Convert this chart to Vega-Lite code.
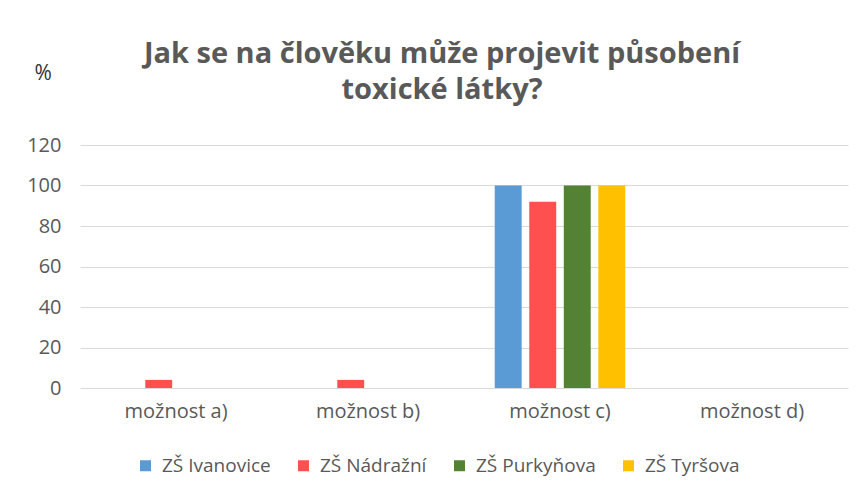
{
  "$schema": "https://vega.github.io/schema/vega-lite/v6.json",
  "width": 768,
  "height": 243,
  "autosize": {"type": "none"},
  "padding": {"left": 80, "top": 145, "right": 14, "bottom": 109},
  "background": "white",
  "title": {
    "text": ["Jak se na člověku může projevit působení", "toxické látky?"],
    "font": "Open Sans",
    "fontSize": 29,
    "fontWeight": "bold",
    "color": "#595959",
    "anchor": "middle",
    "frame": "group",
    "dx": -22,
    "offset": -43,
    "lineHeight": 36
  },
  "data": {
    "values": [
      {"moznost": "možnost a)", "skola": "ZŠ Ivanovice", "pct": 0},
      {"moznost": "možnost a)", "skola": "ZŠ Nádražní", "pct": 4},
      {"moznost": "možnost a)", "skola": "ZŠ Purkyňova", "pct": 0},
      {"moznost": "možnost a)", "skola": "ZŠ Tyršova", "pct": 0},
      {"moznost": "možnost b)", "skola": "ZŠ Ivanovice", "pct": 0},
      {"moznost": "možnost b)", "skola": "ZŠ Nádražní", "pct": 4},
      {"moznost": "možnost b)", "skola": "ZŠ Purkyňova", "pct": 0},
      {"moznost": "možnost b)", "skola": "ZŠ Tyršova", "pct": 0},
      {"moznost": "možnost c)", "skola": "ZŠ Ivanovice", "pct": 100},
      {"moznost": "možnost c)", "skola": "ZŠ Nádražní", "pct": 92},
      {"moznost": "možnost c)", "skola": "ZŠ Purkyňova", "pct": 100},
      {"moznost": "možnost c)", "skola": "ZŠ Tyršova", "pct": 100},
      {"moznost": "možnost d)", "skola": "ZŠ Ivanovice", "pct": 0},
      {"moznost": "možnost d)", "skola": "ZŠ Nádražní", "pct": 0},
      {"moznost": "možnost d)", "skola": "ZŠ Purkyňova", "pct": 0},
      {"moznost": "možnost d)", "skola": "ZŠ Tyršova", "pct": 0}
    ]
  },
  "mark": {"type": "bar"},
  "encoding": {
    "x": {
      "field": "moznost",
      "type": "nominal",
      "sort": null,
      "scale": {"paddingInner": 0, "paddingOuter": 0},
      "axis": {
        "title": null,
        "labelAngle": 0,
        "labelFont": "Open Sans",
        "labelFontSize": 20,
        "labelColor": "#595959",
        "labelPadding": 13,
        "domain": false,
        "ticks": false,
        "grid": false
      }
    },
    "xOffset": {
      "field": "skola",
      "type": "nominal",
      "sort": null,
      "scale": {"paddingInner": 0.22, "paddingOuter": 0.89}
    },
    "y": {
      "field": "pct",
      "type": "quantitative",
      "scale": {"domain": [0, 120]},
      "axis": {
        "title": "%",
        "titleAngle": 0,
        "titleFont": "Open Sans",
        "titleFontSize": 21,
        "titleFontWeight": "normal",
        "titleColor": "#333333",
        "titleAlign": "left",
        "titleBaseline": "middle",
        "titleX": -46,
        "titleY": -72,
        "values": [0, 20, 40, 60, 80, 100, 120],
        "labelFont": "Open Sans",
        "labelFontSize": 20,
        "labelColor": "#595959",
        "labelPadding": 19,
        "domain": false,
        "ticks": false,
        "gridColor": "#d9d9d9",
        "gridWidth": 1
      }
    },
    "color": {
      "field": "skola",
      "type": "nominal",
      "sort": null,
      "scale": {
        "domain": ["ZŠ Ivanovice", "ZŠ Nádražní", "ZŠ Purkyňova", "ZŠ Tyršova"],
        "range": ["#5B9BD5", "#FF5050", "#548235", "#FFC000"]
      },
      "legend": {
        "title": null,
        "orient": "none",
        "direction": "horizontal",
        "legendX": 56,
        "legendY": 311,
        "symbolType": "square",
        "symbolSize": 121,
        "symbolStrokeWidth": 0,
        "labelFont": "Open Sans",
        "labelFontSize": 19,
        "labelColor": "#595959",
        "labelOffset": 7,
        "columnPadding": 23
      }
    }
  },
  "config": {
    "view": {"stroke": null}
  }
}
